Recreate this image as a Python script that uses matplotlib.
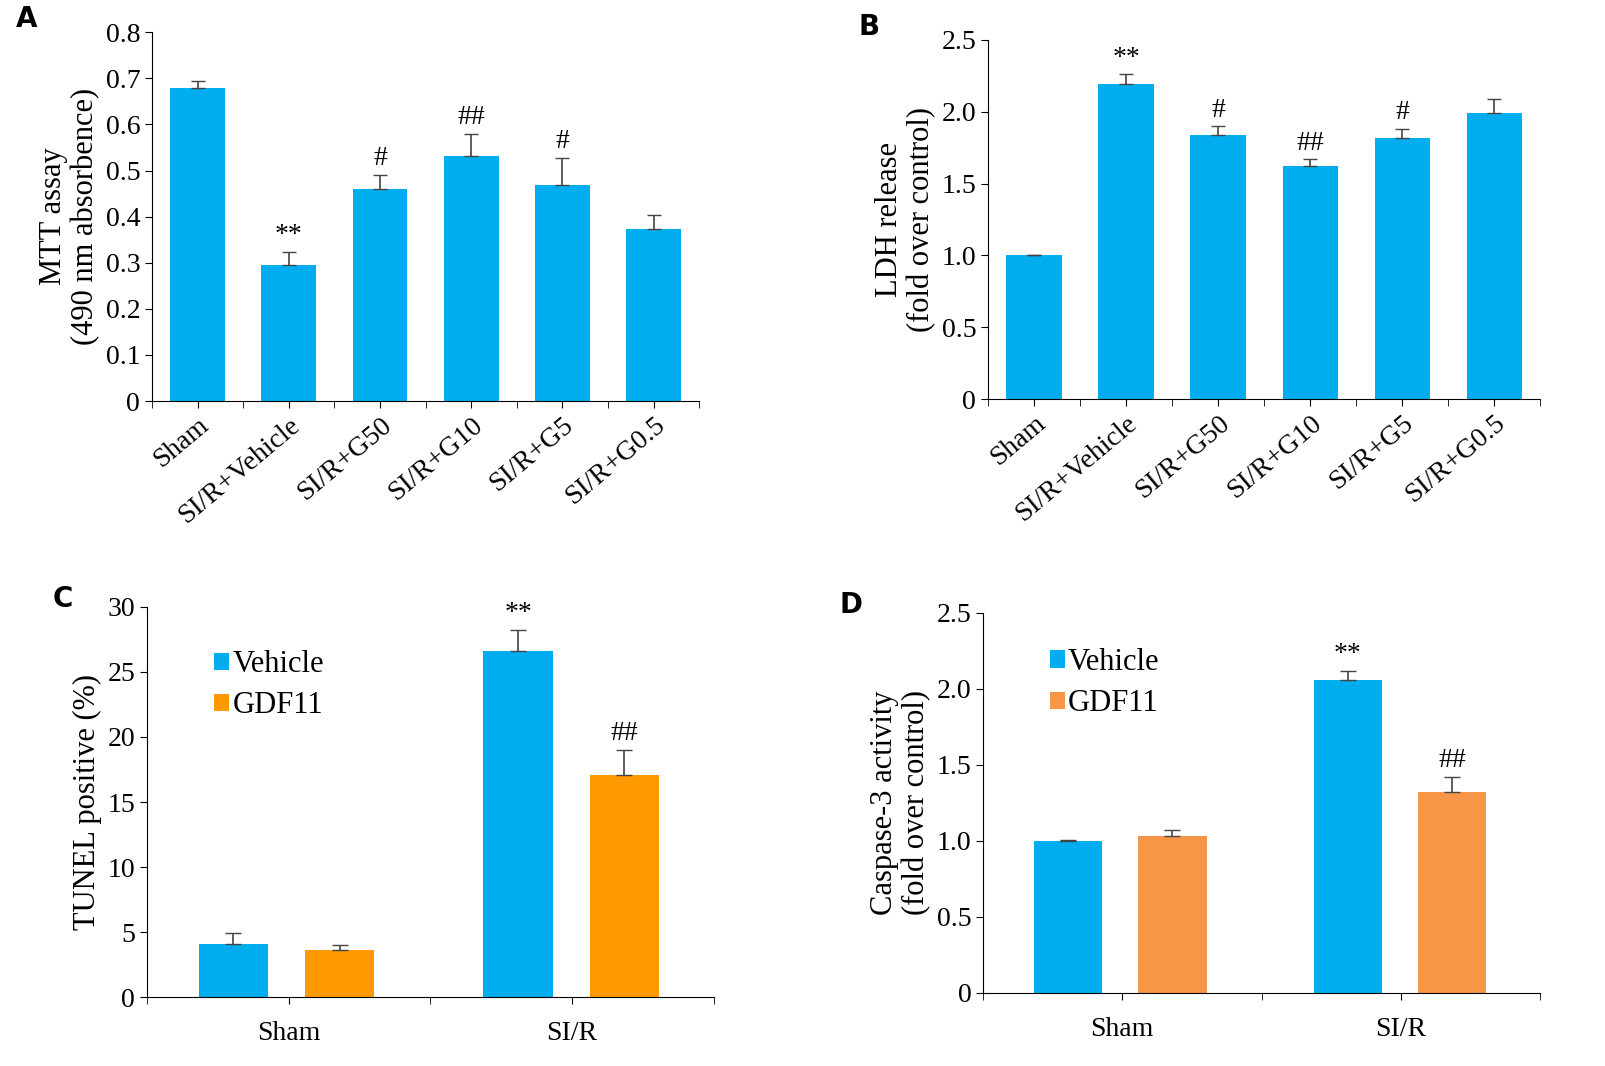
import matplotlib
matplotlib.use("Agg")
import matplotlib.pyplot as plt
import numpy as np

plt.rcParams['font.family'] = ['Liberation Serif', 'DejaVu Serif']

cats_ab = ["Sham", "SI/R+Vehicle", "SI/R+G50", "SI/R+G10", "SI/R+G5", "SI/R+G0.5"]
mtt = [0.68, 0.295, 0.46, 0.532, 0.468, 0.373]
mtt_err = [0.015, 0.028, 0.03, 0.048, 0.06, 0.03]
mtt_sig = ["", "**", "#", "##", "#", ""]
ldh = [1.0, 2.19, 1.84, 1.62, 1.82, 1.99]
ldh_err = [0.006, 0.07, 0.06, 0.05, 0.06, 0.1]
ldh_sig = ["", "**", "#", "##", "#", ""]

groups = ["Sham", "SI/R"]
tunel_veh = [4.1, 26.6]; tunel_veh_err = [0.8, 1.6]
tunel_gdf = [3.6, 17.1]; tunel_gdf_err = [0.4, 1.9]
casp_veh = [1.0, 2.06]; casp_veh_err = [0.006, 0.06]
casp_gdf = [1.03, 1.32]; casp_gdf_err = [0.04, 0.1]
sig_veh = ["", "**"]; sig_gdf = ["", "##"]

BLUE = "#00AEEF"
fig = plt.figure(figsize=(16.05, 10.66), dpi=100)

def style(ax):
    for s in ["top", "right"]:
        ax.spines[s].set_visible(False)
    ax.tick_params(labelsize=20, direction="out", length=5)

def panel_ab(rect, vals, errs, sigs, ylim, yticks, fmt, ylabel, letter, lx):
    ax = fig.add_axes(rect)
    x = np.arange(len(vals))
    ax.bar(x, vals, 0.6, color=BLUE)
    ax.errorbar(x, vals, yerr=[np.zeros(len(errs)), errs], fmt="none", ecolor="#444", capsize=5, lw=1.2)
    for xi, v, e, s in zip(x, vals, errs, sigs):
        if s:
            ax.text(xi, v + e + ylim[1]*0.01, s, ha="center", va="bottom", fontsize=20)
    ax.set_xlim(-0.5, len(vals) - 0.5)
    ax.set_ylim(*ylim)
    ax.set_yticks(yticks)
    ax.set_yticklabels([fmt(t) for t in yticks])
    ax.set_xticks(x)
    ax.set_xticklabels(cats_ab, rotation=40, ha="right", rotation_mode="anchor")
    ax.set_xticks(np.arange(-0.5, len(vals)), minor=True)
    ax.tick_params(axis="x", which="major", length=0)
    ax.tick_params(axis="x", which="minor", length=5)
    style(ax)
    ax.set_ylabel(ylabel, fontsize=22, linespacing=1.1)
    fig.text(lx, rect[1] + rect[3] + 0.005, letter, fontsize=20, fontweight="bold", family="DejaVu Sans")
    return ax

panel_ab([0.0947, 0.6238, 0.341, 0.346], mtt, mtt_err, mtt_sig, (0, 0.8),
         np.arange(0, 0.81, 0.1), lambda t: "0" if t == 0 else f"{t:.1f}",
         "MTT assay\n(490 nm absorbence)", "A", 0.01)
panel_ab([0.6156, 0.6257, 0.344, 0.3368], ldh, ldh_err, ldh_sig, (0, 2.5),
         np.arange(0, 2.51, 0.5), lambda t: "0" if t == 0 else f"{t:.1f}",
         "LDH release\n(fold over control)", "B", 0.535)

def panel_cd(rect, veh, veherr, gdf, gdferr, ylim, yticks, fmt, ylabel, letter, lx, orange, legy):
    ax = fig.add_axes(rect)
    xv = np.array([0.61, 2.62]); xg = np.array([1.36, 3.37]); w = 0.49
    ax.bar(xv, veh, w, color=BLUE, label="Vehicle")
    ax.bar(xg, gdf, w, color=orange, label="GDF11")
    ax.errorbar(xv, veh, yerr=[[0, 0], veherr], fmt="none", ecolor="#444", capsize=6, lw=1.2)
    ax.errorbar(xg, gdf, yerr=[[0, 0], gdferr], fmt="none", ecolor="#444", capsize=6, lw=1.2)
    for xs, vs, es, ss in [(xv, veh, veherr, sig_veh), (xg, gdf, gdferr, sig_gdf)]:
        for xi, v, e, s in zip(xs, vs, es, ss):
            if s:
                ax.text(xi, v + e + ylim[1]*0.01, s, ha="center", va="bottom", fontsize=20)
    ax.set_xlim(0, 4)
    ax.set_ylim(*ylim)
    ax.set_yticks(yticks)
    ax.set_yticklabels([fmt(t) for t in yticks])
    ax.set_xticks([1, 3])
    ax.set_xticklabels(groups)
    ax.set_xticks([0, 2, 4], minor=True)
    ax.tick_params(axis="x", which="major", length=0, pad=12)
    ax.tick_params(axis="x", which="minor", length=5)
    style(ax)
    ax.set_ylabel(ylabel, fontsize=22, linespacing=1.1)
    ax.legend(loc="upper left", bbox_to_anchor=(0.07, legy), frameon=False, fontsize=22,
              handlelength=0.5, handleheight=0.5, handletextpad=0.1, labelspacing=0.4)
    fig.text(lx, rect[1] + rect[3] + 0.0, letter, fontsize=20, fontweight="bold", family="DejaVu Sans")

panel_cd([0.0916, 0.0647, 0.353, 0.3659], tunel_veh, tunel_veh_err, tunel_gdf, tunel_gdf_err,
         (0, 30), np.arange(0, 31, 5), lambda t: f"{int(t)}", "TUNEL positive (%)", "C", 0.033,
         "#FF9900", 0.96)
panel_cd([0.6125, 0.0685, 0.347, 0.3565], casp_veh, casp_veh_err, casp_gdf, casp_gdf_err,
         (0, 2.5), np.arange(0, 2.51, 0.5), lambda t: "0" if t == 0 else f"{t:.1f}",
         "Caspase-3 activity\n(fold over control)", "D", 0.523, "#F79646", 0.98)

fig.savefig("out.png", dpi=100)
